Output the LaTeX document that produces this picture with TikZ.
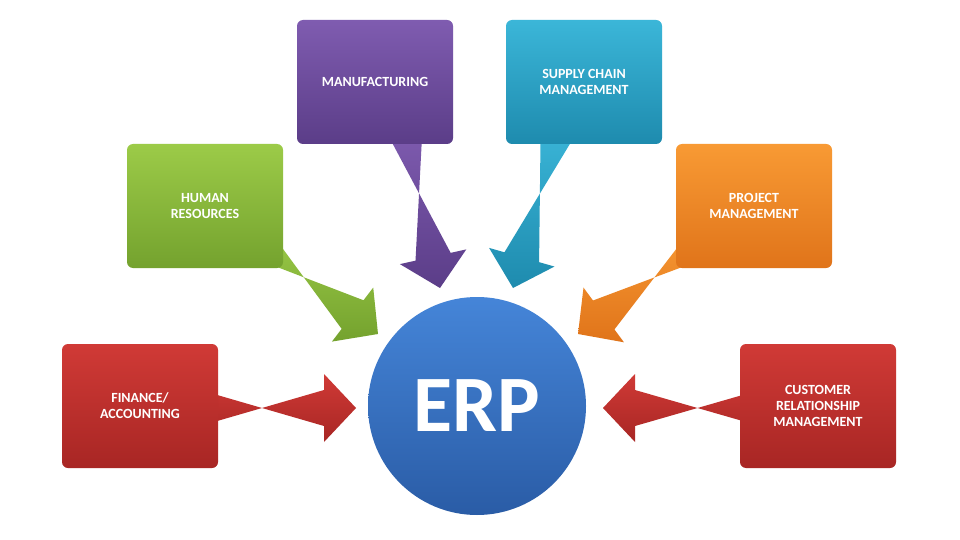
\documentclass[tikz,border=0pt]{standalone}
\usepackage{fontspec}
\setmainfont{Carlito}
\usetikzlibrary{calc}
\definecolor{redT}{HTML}{D03A36}\definecolor{redB}{HTML}{A82624}
\definecolor{grnT}{HTML}{9CCB48}\definecolor{grnB}{HTML}{74A22E}
\definecolor{purT}{HTML}{7F5CB0}\definecolor{purB}{HTML}{5B3D88}
\definecolor{tealT}{HTML}{3BB6D8}\definecolor{tealB}{HTML}{1E8BAE}
\definecolor{orT}{HTML}{F89A34}\definecolor{orB}{HTML}{E0741A}
\definecolor{bluT}{HTML}{4585D8}\definecolor{bluB}{HTML}{2A5CA6}
\tikzset{
  modbox/.style={rounded corners=6pt, minimum width=156pt, minimum height=124pt,
    align=center, text=white, font=\bfseries\fontsize{14}{16}\selectfont},
  redbox/.style={modbox, top color=redT, bottom color=redB},
  grnbox/.style={modbox, top color=grnT, bottom color=grnB},
  purbox/.style={modbox, top color=purT, bottom color=purB},
  tealbox/.style={modbox, top color=tealT, bottom color=tealB},
  orbox/.style={modbox, top color=orT, bottom color=orB},
}
\newcommand{\blockarrow}[4]{% start, end, top colour, bottom colour
  \path[top color=#3, bottom color=#4]
    ($(#1)!18pt!90:(#2)$) -- ($($(#2)!32pt!(#1)$)!18pt!-90:(#2)$)
    -- ($($(#2)!32pt!(#1)$)!34pt!-90:(#2)$) -- (#2)
    -- ($($(#2)!32pt!(#1)$)!34pt!90:(#2)$)
    -- ($($(#2)!32pt!(#1)$)!18pt!90:(#2)$) -- ($(#1)!18pt!-90:(#2)$) -- cycle;}
\begin{document}
\begin{tikzpicture}[x=1pt,y=-1pt]
\useasboundingbox[fill=white] (0,0) rectangle (960,540);
% arrows start points and tips
\coordinate (fs) at (200,408); \coordinate (ft) at (356,408);
\coordinate (hs) at (255,240); \coordinate (ht) at (378,334);
\coordinate (ms) at (405,130); \coordinate (mt) at (440,288);
\coordinate (ss) at (558,130); \coordinate (st) at (513,288);
\coordinate (ps) at (705,240); \coordinate (pt) at (578,334);
\coordinate (cs) at (760,408); \coordinate (ct) at (603,408);
\blockarrow{fs}{ft}{redT}{redB}
\blockarrow{hs}{ht}{grnT}{grnB}
\blockarrow{ms}{mt}{purT}{purB}
\blockarrow{ss}{st}{tealT}{tealB}
\blockarrow{ps}{pt}{orT}{orB}
\blockarrow{cs}{ct}{redT}{redB}
% boxes
\node[redbox] (fin) at (140,406) {FINANCE/\\ACCOUNTING};
\node[grnbox] (hr) at (205,206) {HUMAN\\RESOURCES};
\node[purbox] (man) at (375,82) {MANUFACTURING};
\node[tealbox] (scm) at (584,82) {SUPPLY CHAIN\\MANAGEMENT};
\node[orbox] (pm) at (754,206) {PROJECT\\MANAGEMENT};
\node[redbox] (crm) at (818,406) {CUSTOMER\\RELATIONSHIP\\MANAGEMENT};
% ERP
\node[circle, minimum size=218pt, inner sep=0pt, top color=bluT, bottom color=bluB,
  text=white, font=\bfseries\fontsize{80}{80}\selectfont] (erp) at (477,406) {ERP};
\end{tikzpicture}
\end{document}
